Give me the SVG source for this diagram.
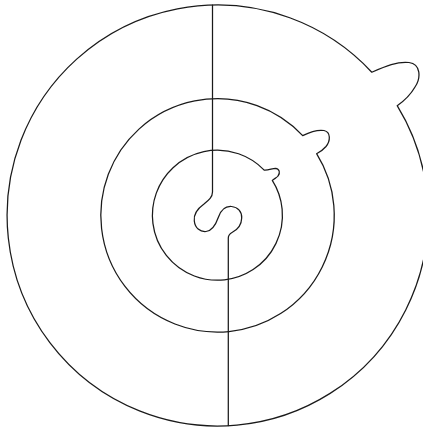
<svg xmlns="http://www.w3.org/2000/svg" width="423" height="431" viewBox="0 0 423 431">
<style>
.s{fill:none;stroke:#1a1a1a;stroke-width:1.25;stroke-linejoin:round;stroke-linecap:round}
</style>
<rect width="423" height="431" fill="#fff"/>
<g id="outer">
<path class="s" d="M397.2,105.7 A210.5,210.5 0 1 1 371.8,72.2 C385,66.5 398,61 409,62.5 C421,64 421,78 415,87 C411,94 404,101 397.2,105.7 Z"/>
</g>
<g id="middle">
<path class="s" d="M316.6,153.7 A116.7,116.7 0 1 1 302.7,135.6 C310,132 318,129.5 324,130.5 C331,132 330.5,141 326,146.5 C323,150 320,152 316.6,153.7 Z"/>
</g>
<g id="inner">
<path class="s" d="M272.3,180.4 A65,65 0 1 1 264.2,170.1 C268,170.5 272,168.5 275.5,168.3 C279.5,168.5 280.5,173 278,176 C277,177.5 274.5,178.5 272.3,180.4 Z"/>
</g>
<g id="connectors">
<path class="s" d="M212.5,5 V192 C212.5,197 209,200 204,204 C197,209 193.5,215 194.3,221 C195,228 200,232 206,231.5 C212,231 216,224 218.5,217 C221,210 225,206 231.5,206.5 C238,207 242,212 241.7,218 C241.5,225 237,230 232,232.5 C229.5,234 228.3,235 228.3,238 V425.5"/>
</g>
</svg>
